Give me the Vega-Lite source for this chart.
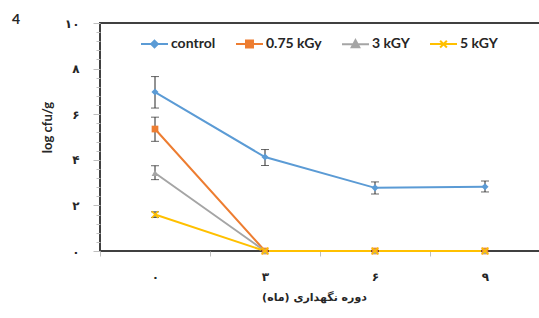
{
  "$schema": "https://vega.github.io/schema/vega-lite/v6.json",
  "width": 440,
  "height": 228,
  "autosize": {"type": "none"},
  "padding": {"left": 100, "top": 23, "right": 0, "bottom": 67},
  "background": "white",
  "config": {
    "view": {"stroke": "#404040", "strokeWidth": 2},
    "axis": {"grid": false}
  },
  "title": {"text": "4", "anchor": "start", "frame": "group", "dx": -88, "dy": 12, "offset": 2, "fontSize": 14, "font": "Lato", "fontWeight": "bold", "color": "#262626"},
  "data": {
    "values": [
      {"series": "control", "month": 0, "value": 6.97, "lo": 6.27, "hi": 7.65},
      {"series": "control", "month": 3, "value": 4.12, "lo": 3.75, "hi": 4.45},
      {"series": "control", "month": 6, "value": 2.77, "lo": 2.5, "hi": 3.03},
      {"series": "control", "month": 9, "value": 2.82, "lo": 2.59, "hi": 3.07},
      {"series": "0.75 kGy", "month": 0, "value": 5.35, "lo": 4.81, "hi": 5.87},
      {"series": "0.75 kGy", "month": 3, "value": 0, "lo": 0, "hi": 0},
      {"series": "0.75 kGy", "month": 6, "value": 0, "lo": 0, "hi": 0},
      {"series": "0.75 kGy", "month": 9, "value": 0, "lo": 0, "hi": 0},
      {"series": "3 kGY", "month": 0, "value": 3.42, "lo": 3.13, "hi": 3.74},
      {"series": "3 kGY", "month": 3, "value": 0, "lo": 0, "hi": 0},
      {"series": "3 kGY", "month": 6, "value": 0, "lo": 0, "hi": 0},
      {"series": "3 kGY", "month": 9, "value": 0, "lo": 0, "hi": 0},
      {"series": "5 kGY", "month": 0, "value": 1.6, "lo": 1.47, "hi": 1.72},
      {"series": "5 kGY", "month": 3, "value": 0, "lo": 0, "hi": 0},
      {"series": "5 kGY", "month": 6, "value": 0, "lo": 0, "hi": 0},
      {"series": "5 kGY", "month": 9, "value": 0, "lo": 0, "hi": 0}
    ]
  },
  "encoding": {
    "x": {
      "field": "month", "type": "quantitative",
      "scale": {"domain": [-1.5, 10.5], "nice": false, "zero": false},
      "axis": {
        "values": [-1.5, 0, 1.5, 3, 4.5, 6, 7.5, 9],
        "labelExpr": "datum.value==0?'۰':datum.value==3?'۳':datum.value==6?'۶':datum.value==9?'۹':''",
        "tickOpacity": {"condition": {"test": "datum.value==0||datum.value==3||datum.value==6||datum.value==9", "value": 0}, "value": 1},
        "tickSize": 5, "tickColor": "#bfbfbf", "tickWidth": 1,
        "labelPadding": 15, "labelOverlap": false,
        "labelFont": "DejaVu Sans", "labelFontSize": 12, "labelFontWeight": "bold", "labelColor": "#262626",
        "domain": false,
        "title": "دوره نگهداری (ماه)", "titleFont": "DejaVu Sans", "titleFontSize": 11, "titleFontWeight": "bold", "titleColor": "#262626", "titlePadding": 9,
        "titleX": 214
      }
    },
    "y": {
      "field": "value", "type": "quantitative",
      "scale": {"domain": [0, 10], "nice": false},
      "axis": {
        "values": [0, 0.4, 0.8, 1.2, 1.6, 2, 2.4, 2.8, 3.2, 3.6, 4, 4.4, 4.8, 5.2, 5.6, 6, 6.4, 6.8, 7.2, 7.6, 8, 8.4, 8.8, 9.2, 9.6, 10],
        "labelExpr": "datum.value==0?'۰':datum.value==2?'۲':datum.value==4?'۴':datum.value==6?'۶':datum.value==8?'۸':datum.value==10?'۱۰':''",
        "labelOverlap": false,
        "labelFont": "DejaVu Sans", "labelFontSize": 12, "labelFontWeight": "bold", "labelColor": "#262626", "labelPadding": 14,
        "tickSize": {"condition": {"test": "datum.value==0||datum.value==2||datum.value==4||datum.value==6||datum.value==8||datum.value==10", "value": 7}, "value": 4},
        "tickColor": "#bfbfbf",
        "domain": false,
        "title": "log cfu/g", "titleFont": "Lato", "titleFontSize": 13, "titleFontWeight": "bold", "titleColor": "#262626",
        "titleX": -53, "titleY": 104, "titleAlign": "center", "titleBaseline": "middle", "titleAngle": -90
      }
    }
  },
  "layer": [
    {
      "mark": {"type": "line", "strokeWidth": 2},
      "encoding": {
        "color": {
          "field": "series", "type": "nominal",
          "scale": {"domain": ["control", "0.75 kGy", "3 kGY", "5 kGY"], "range": ["#5B9BD5", "#ED7D31", "#A5A5A5", "#FFC000"]},
          "legend": {
            "title": null, "orient": "none", "direction": "horizontal", "legendX": 40, "legendY": 6,
            "symbolSize": 729, "symbolStrokeWidth": 2, "labelOffset": 2, "columnPadding": 16,
            "labelFont": "Lato", "labelFontSize": 14, "labelFontWeight": "bold", "labelColor": "#262626",
            "encode": {
              "symbols": {
                "update": {
                  "shape": {"signal": "datum.value==='control' ? 'M-1,0H1M0,-0.25L0.25,0L0,0.25L-0.25,0Z' : datum.value==='0.75 kGy' ? 'M-1,0H1M-0.26,-0.26H0.26V0.26H-0.26Z' : datum.value==='3 kGY' ? 'M-1,0H1M0,-0.3L0.28,0.22H-0.28Z' : 'M-1,0H1M-0.25,-0.25L0.25,0.25M-0.25,0.25L0.25,-0.25'"},
                  "fill": {"signal": "scale('color', datum.value)"},
                  "stroke": {"signal": "scale('color', datum.value)"},
                  "strokeWidth": {"value": 2}
                }
              }
            }
          }
        }
      }
    },
    {
      "mark": {"type": "rule", "color": "#262626", "strokeWidth": 1},
      "encoding": {"y": {"field": "lo", "type": "quantitative"}, "y2": {"field": "hi"}}
    },
    {
      "mark": {"type": "tick", "orient": "horizontal", "color": "#262626", "thickness": 1, "size": 8},
      "encoding": {"y": {"field": "lo", "type": "quantitative"}}
    },
    {
      "mark": {"type": "tick", "orient": "horizontal", "color": "#262626", "thickness": 1, "size": 8},
      "encoding": {"y": {"field": "hi", "type": "quantitative"}}
    },
    {
      "transform": [{"filter": "datum.series==='control'"}],
      "mark": {"type": "point", "shape": "diamond", "filled": true, "color": "#5B9BD5", "opacity": 1, "size": 50},
      "encoding": {}
    },
    {
      "transform": [{"filter": "datum.series==='0.75 kGy'"}],
      "mark": {"type": "point", "shape": "square", "filled": true, "color": "#ED7D31", "opacity": 1, "size": 45},
      "encoding": {}
    },
    {
      "transform": [{"filter": "datum.series==='3 kGY'"}],
      "mark": {"type": "point", "shape": "triangle-up", "filled": true, "color": "#A5A5A5", "opacity": 1, "size": 45},
      "encoding": {}
    },
    {
      "transform": [{"filter": "datum.series==='5 kGY'"}],
      "mark": {"type": "point", "shape": "M-1,-1L1,1M-1,1L1,-1", "filled": false, "color": "#FFC000", "strokeWidth": 1.5, "opacity": 1, "size": 45},
      "encoding": {}
    }
  ]
}
